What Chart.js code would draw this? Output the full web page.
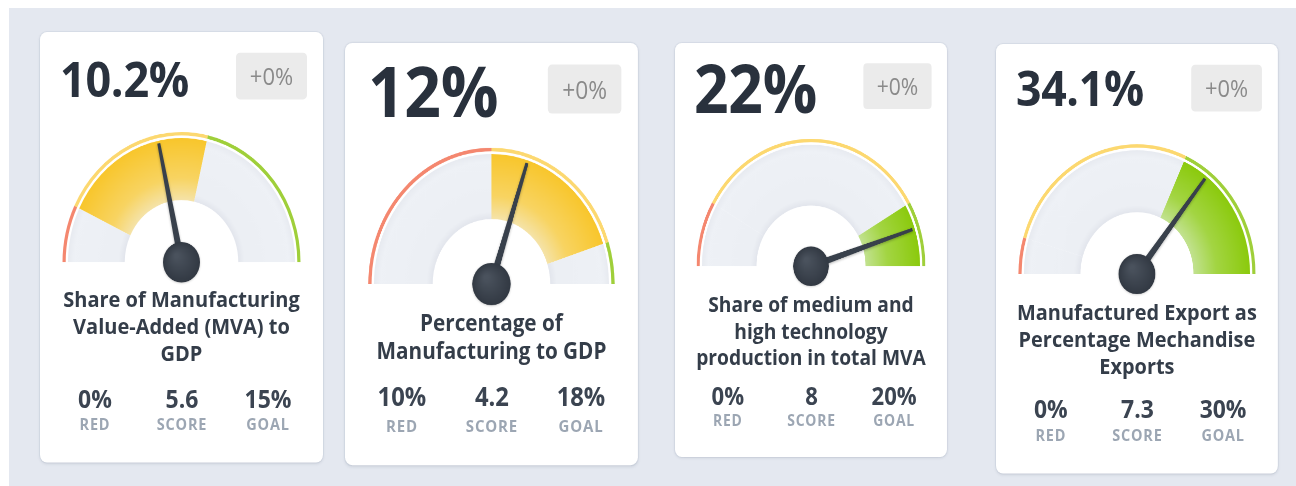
<!DOCTYPE html>
<html><head><meta charset="utf-8">
<script src="https://cdn.jsdelivr.net/npm/chart.js@4.4.0/dist/chart.umd.min.js"></script>
<style>
html,body{margin:0;padding:0;width:1296px;height:486px;overflow:hidden;background:#fff;font-family:"Open Sans",sans-serif;}
#bg{position:absolute;left:9px;top:8px;right:0;bottom:0;background:#e4e8f0;}
.card{position:absolute;background:#fff;border-radius:7px;box-shadow:0 1px 3px rgba(40,55,80,0.12),0 0 0 1px rgba(214,220,230,0.7);transform-origin:0 0;width:283px;}
.val{position:absolute;font-weight:700;color:#29313d;white-space:nowrap;letter-spacing:-0.3px}
.badge{position:absolute;left:196px;top:19px;width:71px;height:42.5px;background:#ebebeb;border-radius:4px;color:#8a8a8a;font-size:22px;display:flex;align-items:center;justify-content:center;}
.title{position:absolute;left:0;width:283px;text-align:center;font-weight:700;color:#343d49;font-size:20px;line-height:24.7px;white-space:pre-line;}
.stat{position:absolute;width:90px;text-align:center;white-space:nowrap}
.sv{font-weight:700;color:#3b4451;font-size:23px;line-height:26px;}
.sl{font-weight:700;color:#9ca6b3;font-size:14.5px;line-height:17px;letter-spacing:0.8px}
canvas{position:absolute;left:0}
</style>
</head>
<body>
<div id="bg"></div>
<div id="root"></div>
<script>
// ---------- data ----------
const titles = [
  "Share of Manufacturing\nValue-Added (MVA) to\nGDP",
  "Percentage of\nManufacturing to GDP",
  "Share of medium and\nhigh technology\nproduction in total MVA",
  "Manufactured Export as\nPercentage Mechandise\nExports"
];
const values = [10.2, 12, 22, 34.1];
const valueLabels = ["10.2%", "12%", "22%", "34.1%"];
const changes = ["+0%", "+0%", "+0%", "+0%"];
const redValues = [0, 10, 0, 0];
const goalValues = [15, 18, 20, 30];
const scores = [5.6, 4.2, 8, 7.3];
const gaugeMin = [-5, 0, -5, -5];
const gaugeMax = [30, 20, 25, 50];
const statLabels = ["RED", "SCORE", "GOAL"];
const zoneNames = ["Red zone", "Middle zone", "Goal zone"];

// ---------- layout (positions only) ----------
const cardBox = [
  {left:40,  top:32, kx:1.000, ky:1.087, h:395.6, cy:211.6, valTop:27.6, valSize:45,   valLeft:20,   statTop:329.3, labelTop:356.0},
  {left:345, top:43, kx:1.035, ky:1.138, h:370.8, cy:211.8, valTop:21.1, valSize:62,   valLeft:22.2, statTop:302.3, labelTop:331.3},
  {left:675, top:43, kx:0.961, ky:1.064, h:389.0, cy:209.6, valTop:20.7, valSize:63,   valLeft:19.8, statTop:323.3, labelTop:349.6},
  {left:996, top:44, kx:0.996, ky:1.090, h:393.6, cy:211.0, valTop:25.7, valSize:44.8, valLeft:20,   statTop:326.6, labelTop:354.1}
];
const statX = [55, 142, 228];
const CARD_W = 283, R = 119.5, HOLE = 57, PAD_T = 4, PAD_B = 26;
const TITLE_CAP_TOP = 240;
const SV_F = 23, SV_LH = 26, SL_F = 14.5, SL_LH = 17;

function capOffset(f, lh){ return (lh - 1.362*f)/2 + 0.355*f; }

const ringColors = ["#f4876f", "#fcd870", "#9fcf3a"];

const needlePlugin = {
  id: 'needle',
  afterDatasetsDraw(chart, args, opts){
    const meta = chart.getDatasetMeta(2);
    const idx = opts.zone;
    const arc = meta.data[idx];
    const p = arc.getProps(['x','y','startAngle','endAngle'], true);
    const zs = opts.bounds[idx], ze = opts.bounds[idx+1];
    const a = p.startAngle + (opts.value - zs)/(ze - zs)*(p.endAngle - p.startAngle);
    const ctx = chart.ctx;
    const L = 111;
    ctx.save();
    ctx.translate(p.x, p.y);
    ctx.rotate(a);
    ctx.shadowColor = 'rgba(0,0,0,0.28)';
    ctx.shadowBlur = 5;
    ctx.shadowOffsetY = 2;
    ctx.beginPath();
    ctx.moveTo(0, -3.3);
    ctx.lineTo(L, -1.5);
    ctx.lineTo(L, 1.5);
    ctx.lineTo(0, 3.3);
    ctx.closePath();
    ctx.fillStyle = '#38404b';
    ctx.fill();
    ctx.restore();
    ctx.save();
    ctx.shadowColor = 'rgba(0,0,0,0.22)';
    ctx.shadowBlur = 4;
    ctx.shadowOffsetY = 1;
    const g = ctx.createRadialGradient(p.x-5, p.y-6, 2, p.x, p.y, 18.5);
    g.addColorStop(0, '#4a525d');
    g.addColorStop(1, '#323943');
    ctx.beginPath();
    ctx.arc(p.x, p.y, 18.5, 0, Math.PI*2);
    ctx.fillStyle = g;
    ctx.fill();
    ctx.restore();
  }
};

const root = document.getElementById('root');

titles.forEach((title, i) => {
  const b = cardBox[i];
  const card = document.createElement('div');
  card.className = 'card';
  card.style.left = b.left + 'px';
  card.style.top = b.top + 'px';
  card.style.height = b.h + 'px';
  card.style.transform = `scale(${b.kx}, ${b.ky})`;
  root.appendChild(card);

  const v = document.createElement('div');
  v.className = 'val';
  v.style.fontSize = b.valSize + 'px';
  v.style.lineHeight = b.valSize + 'px';
  v.style.left = b.valLeft + 'px';
  v.style.top = (b.valTop - capOffset(b.valSize, b.valSize)) + 'px';
  v.textContent = valueLabels[i];
  card.appendChild(v);

  const badge = document.createElement('div');
  badge.className = 'badge';
  badge.textContent = changes[i];
  card.appendChild(badge);

  const t = document.createElement('div');
  t.className = 'title';
  t.style.top = (TITLE_CAP_TOP - capOffset(20, 24.7)) + 'px';
  t.textContent = title;
  card.appendChild(t);

  const statVals = [redValues[i] + '%', String(scores[i]), goalValues[i] + '%'];
  statVals.forEach((sv, j) => {
    const d = document.createElement('div');
    d.className = 'stat sv';
    d.style.left = (statX[j] - 45) + 'px';
    d.style.top = (b.statTop - capOffset(SV_F, SV_LH)) + 'px';
    d.textContent = sv;
    card.appendChild(d);
    const l = document.createElement('div');
    l.className = 'stat sl';
    l.style.left = (statX[j] - 45) + 'px';
    l.style.top = (b.labelTop - capOffset(SL_F, SL_LH)) + 'px';
    l.textContent = statLabels[j];
    card.appendChild(l);
  });

  // gauge
  const cv = document.createElement('canvas');
  const ch = R + PAD_T + PAD_B;
  cv.width = CARD_W; cv.height = ch;
  cv.style.width = CARD_W + 'px'; cv.style.height = ch + 'px';
  cv.style.top = (b.cy - R - PAD_T) + 'px';
  card.appendChild(cv);

  const bounds = [gaugeMin[i], redValues[i], goalValues[i], gaugeMax[i]];
  const zones = [bounds[1]-bounds[0], bounds[2]-bounds[1], bounds[3]-bounds[2]];
  let zone = 0;
  if (values[i] >= bounds[2]) zone = 2; else if (values[i] >= bounds[1]) zone = 1;

  const bandColor = (ctx) => {
    const chart = ctx.chart, area = chart.chartArea;
    if (!area) return '#eef1f5';
    const cx = (area.left + area.right)/2, cy = area.bottom;
    const c = chart.ctx;
    const g = c.createRadialGradient(cx, cy, HOLE, cx, cy, R - 5.5);
    if (ctx.dataIndex !== zone) {
      g.addColorStop(0, '#e3e6ed');
      g.addColorStop(0.1, '#ecEff4');
      g.addColorStop(0.88, '#eef1f6');
      g.addColorStop(1, '#e7eaf0');
    } else if (zone === 2) {
      g.addColorStop(0, '#c2e290');
      g.addColorStop(0.4, '#a3d543');
      g.addColorStop(1, '#8bca0c');
    } else if (zone === 1) {
      g.addColorStop(0, '#f5e3a8');
      g.addColorStop(0.35, '#f8d462');
      g.addColorStop(1, '#f8c62b');
    } else {
      g.addColorStop(0, '#f9c8bb');
      g.addColorStop(1, '#f4876f');
    }
    return g;
  };

  new Chart(cv, {
    type: 'doughnut',
    data: {
      labels: zoneNames,
      datasets: [
        {data: zones, backgroundColor: ringColors, weight: 3.2, borderWidth: 0},
        {data: zones, backgroundColor: 'rgba(0,0,0,0)', weight: 2.3, borderWidth: 0},
        {data: zones, backgroundColor: bandColor, weight: R - 5.5 - HOLE, borderWidth: 0}
      ]
    },
    options: {
      responsive: false,
      animation: false,
      devicePixelRatio: 2,
      rotation: -90,
      circumference: 180,
      cutout: (HOLE / R * 100) + '%',
      events: [],
      layout: {padding: {top: PAD_T, bottom: PAD_B, left: (CARD_W - 2*R)/2, right: (CARD_W - 2*R)/2}},
      plugins: {
        legend: {display: false},
        tooltip: {enabled: false},
        needle: {value: values[i], bounds: bounds, zone: zone}
      }
    },
    plugins: [needlePlugin]
  });
});
</script>
</body></html>
